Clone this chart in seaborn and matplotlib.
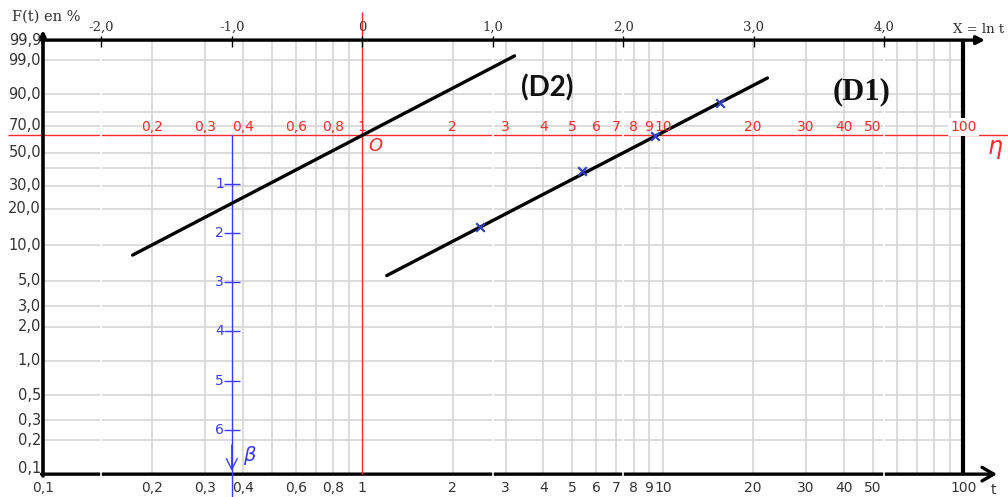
import numpy as np
import pandas as pd
import matplotlib
matplotlib.use("Agg")
import matplotlib.pyplot as plt
import seaborn as sns

# ---------------- data ----------------
d1_t = [1.206, 22.3]          # line (D1): end points, t
d1_F = [5.55, 95.9]           # line (D1): end points, F(t) in %
d2_t = [0.172, 3.21]          # line (D2): end points, t
d2_F = [8.3, 99.33]           # line (D2): end points, F(t) in %
pts_t = [2.46, 5.37, 9.42, 15.5]   # plotted observations
pts_F = [14.2, 38.1, 62.5, 85.5]

F_ticks = [99.9, 99.0, 90.0, 70.0, 50.0, 30.0, 20.0, 10.0, 5.0, 3.0, 2.0,
           1.0, 0.5, 0.3, 0.2, 0.1]
F_labels = ["99,9", "99,0", "90,0", "70,0", "50,0", "30,0", "20,0", "10,0",
            "5,0", "3,0", "2,0", "1,0", "0,5", "0,3", "0,2", "0,1"]
F_grid = [99, 90, 80, 70, 50, 40, 30, 20, 10, 5, 3, 2, 1, 0.5, 0.3, 0.2]
t_grid = [0.2, 0.3, 0.4, 0.5, 0.6, 0.7, 0.8, 0.9, 2, 3, 4, 5, 6, 7, 8, 9,
          10, 20, 30, 40, 50, 60, 70, 80, 90]
t_ticks = [0.1, 0.2, 0.3, 0.4, 0.6, 0.8, 1, 2, 3, 4, 5, 6, 7, 8, 9, 10,
           20, 30, 40, 50, 100]
t_labels = ["0,1", "0,2", "0,3", "0,4", "0,6", "0,8", "1", "2", "3", "4",
            "5", "6", "7", "8", "9", "10", "20", "30", "40", "50", "100"]
X_ticks = [-2, -1, 0, 1, 2, 3, 4]
X_labels = ["-2,0", "-1,0", "0", "1,0", "2,0", "3,0", "4,0"]
beta_ticks = [1, 2, 3, 4, 5, 6]

# ---------------- layout constants (pixels) ----------------
W, H = 1008, 497
X0PX, SX = 362.3, 130.5      # pixel of ln t = 0 and px per unit of ln t
Y0PX, SY = 135.0, 49.1       # pixel of Weibull Y = 0 and px per unit


def fwd(F):
    with np.errstate(all="ignore"):
        F = np.asarray(F, dtype=float)
        return np.log(-np.log1p(-F / 100.0))


def inv(Y):
    with np.errstate(all="ignore"):
        Y = np.asarray(Y, dtype=float)
        return 100.0 * (-np.expm1(-np.exp(Y)))


def tx(px):
    return float(np.exp((px - X0PX) / SX))


def fy(py):
    return float(inv((Y0PX - py) / SY))


sns.set_style("white")
plt.rcParams["font.family"] = ["DejaVu Sans"]

fig = plt.figure(figsize=(W / 100, H / 100), dpi=100)
ax = fig.add_axes([0, 0, 1, 1])
ax.set_xscale("log")
ax.set_yscale("function", functions=(fwd, inv))

# ---------------- marks via seaborn ----------------
df_lines = pd.DataFrame({
    "t": d1_t + d2_t,
    "F": d1_F + d2_F,
    "line": ["D1"] * len(d1_t) + ["D2"] * len(d2_t),
})
sns.lineplot(data=df_lines, x="t", y="F", units="line", estimator=None,
             sort=False, color="black", lw=2.4, ax=ax, legend=False, zorder=5)
sns.scatterplot(x=pts_t, y=pts_F, marker="x", color="#3040c0", s=38,
                linewidth=1.6, ax=ax, legend=False, zorder=6)

t_left = tx(43)
F_eta = float(inv(0.0))
GRID = "#d2d2d2"
RED = "#ff2a2a"
BLUE = "#3a3aff"
DARK = "#333333"

# grid
ax.vlines(t_grid, 0.1, 99.9, color=GRID, lw=1.1, zorder=1)
ax.hlines(F_grid, t_left, 100, color=GRID, lw=1.1, zorder=1)

# red reference lines (eta line and t = 1)
ax.hlines(F_eta, tx(8), tx(W), color=RED, lw=1.0, zorder=1.5)
ax.vlines(1, fy(474), fy(12), color=RED, lw=1.0, zorder=3)

# axes
ax.annotate("", xy=(t_left, fy(30)), xytext=(t_left, fy(476)),
            arrowprops=dict(arrowstyle="-|>", lw=2.6, color="black",
                            mutation_scale=7, shrinkA=0, shrinkB=0),
            zorder=2, annotation_clip=False)
ax.annotate("", xy=(tx(985), 99.9), xytext=(tx(41.5), 99.9),
            arrowprops=dict(arrowstyle="-|>", lw=2.4, color="black",
                            mutation_scale=12, shrinkA=0, shrinkB=0),
            zorder=2, annotation_clip=False)
ax.annotate("", xy=(tx(997), 0.1), xytext=(tx(41.5), 0.1),
            arrowprops=dict(arrowstyle="->,head_length=0.6,head_width=0.35",
                            lw=2.4, color="black", mutation_scale=14,
                            shrinkA=0, shrinkB=0),
            zorder=2, annotation_clip=False)
ax.vlines(100, 0.1, 99.9, color="black", lw=3.0, zorder=2)

# white cuts at integer ln t
ax.vlines(np.exp([-2, 1, 2, 4]), fy(477), fy(44), color="white", lw=1.2,
          zorder=2.5)

# top ln t axis ticks and labels
ax.vlines(np.exp(X_ticks), fy(47), fy(36), color="black", lw=1.0, zorder=3)
for xv, lab in zip(X_ticks, X_labels):
    ax.text(np.exp(xv), fy(27), lab, ha="center", va="center", fontsize=9.5,
            family="DejaVu Serif", color=DARK, zorder=7)
ax.text(tx(979), fy(29), "X = ln t", ha="center", va="center", fontsize=9.5,
        family="DejaVu Serif", color=DARK, zorder=7)
ax.text(tx(46), fy(17), "F(t) en %", ha="center", va="center", fontsize=10.5,
        family="DejaVu Serif", color=DARK, zorder=7)

# left F labels
for fv, lab in zip(F_ticks, F_labels):
    yv = fv if fv > 0.1 else fy(468)
    ax.text(tx(41), yv, lab, ha="right", va="center", fontsize=10.5,
            color=DARK, zorder=7)

# bottom t labels and red t labels along the eta line
for i, (tv, lab) in enumerate(zip(t_ticks, t_labels)):
    xb = t_left if i == 0 else tv
    ax.text(xb, fy(488), lab, ha="center", va="center",
            fontsize=10, color=DARK, zorder=7)
    if i > 0:
        kw = {}
        if tv == 100:
            kw["bbox"] = dict(facecolor="white", edgecolor="none", pad=1.5)
        ax.text(tv, fy(127), lab, ha="center", va="center", fontsize=10,
                color=RED, zorder=7, **kw)
ax.text(tx(993), fy(490), "t", ha="center", va="center", fontsize=10,
        color=DARK, zorder=7)
ax.text(tx(376), fy(146), r"$O$", ha="center", va="center", fontsize=13,
        color=RED, zorder=7)
ax.text(tx(995), fy(149), r"$\eta$", ha="center", va="center", fontsize=17,
        color=RED, zorder=7)

# beta axis
t_beta = float(np.exp(-1.0))
ax.vlines(t_beta, F_eta, fy(H), color=BLUE, lw=1.0, zorder=3)
ax.annotate("", xy=(t_beta, fy(471)), xytext=(t_beta, fy(445)),
            arrowprops=dict(arrowstyle="->,head_length=0.6,head_width=0.3",
                            lw=1.0, color=BLUE, mutation_scale=13,
                            shrinkA=0, shrinkB=0), zorder=3)
F_beta = inv(-np.asarray(beta_ticks, dtype=float))
ax.plot([t_beta] * len(beta_ticks), F_beta, ls="none", marker="_", ms=11,
        mew=1.0, color=BLUE, zorder=3)
for b, fb in zip(beta_ticks, F_beta):
    ax.text(tx(224), fb, str(b), ha="right", va="center", fontsize=10,
            color=BLUE, zorder=7)
ax.text(tx(250), fy(455), r"$\beta$", ha="center", va="center", fontsize=14,
        color=BLUE, zorder=7)

# line names
ax.text(tx(547), fy(88), "(D2)", ha="center", va="center", fontsize=20,
        family="Lato", fontweight="bold", color="#111111", zorder=7)
ax.text(tx(862), fy(92), "(D1)", ha="center", va="center", fontsize=22,
        family="Liberation Serif", fontweight="bold", color="#111111",
        zorder=7)

ax.set_xlim(tx(0), tx(W))
ax.set_ylim(fy(H), fy(0))
ax.set_xticks([])
ax.set_yticks([])
ax.axis("off")

fig.savefig("out.png", dpi=100)
